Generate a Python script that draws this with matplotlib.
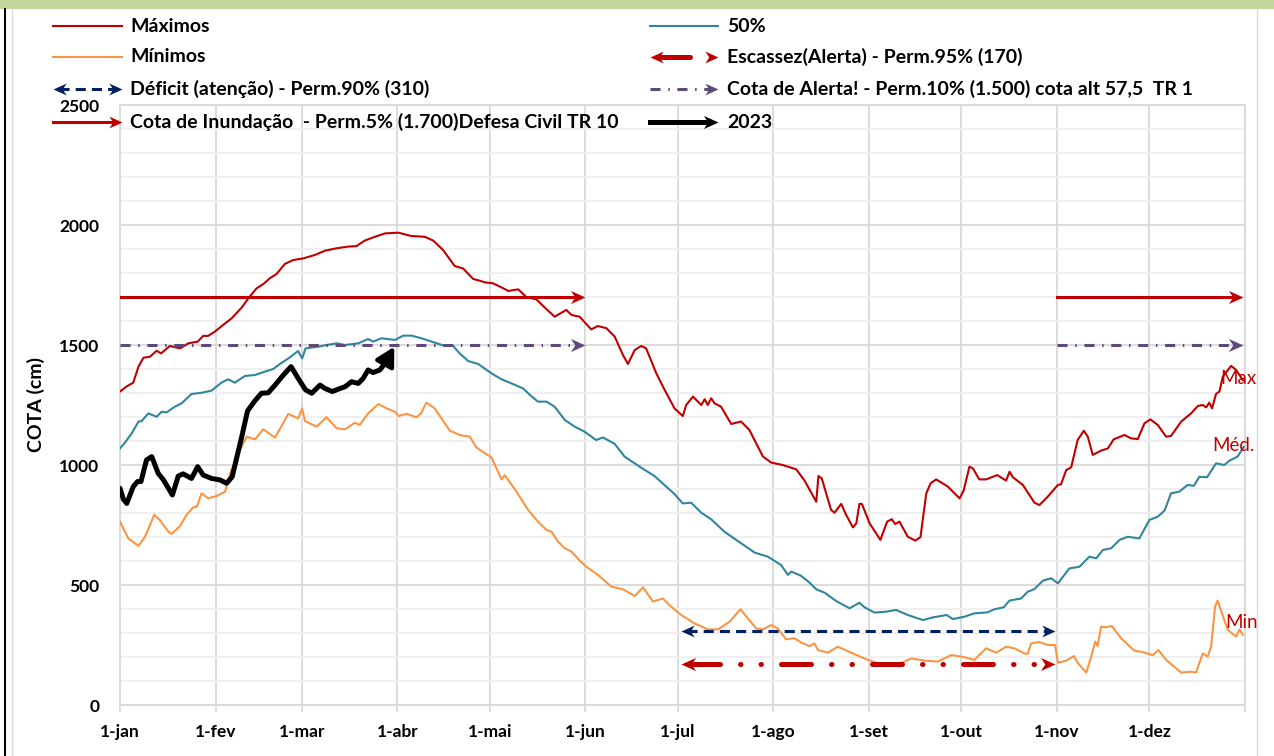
import matplotlib.pyplot as plt
from matplotlib.path import Path
from matplotlib.lines import Line2D
from matplotlib.patches import Rectangle

plt.rcParams['font.family'] = ['Lato', 'DejaVu Sans']

# =========================
# data (day of year, cota in cm)
# =========================
max_days = [0, 2, 4.3, 6, 7.6, 9.7, 11.9, 13.3, 16.2, 19.5, 22.2, 25.2, 27, 28.6, 30.8, 33,
            36.2, 39.5, 41.6, 44.3, 46.5, 48.6, 50.8, 53.5, 56.2, 59.5, 63.2, 66.5, 70.3, 74,
            76.7, 79.4, 82.7, 86, 90.3, 94.6, 98.9, 101.6, 104.8, 108.6, 111.3, 114.6, 116.7,
            118.4, 121, 123.8, 126, 129.2, 131.9, 135.1, 138.4, 141, 144.8, 146.5, 149.1,
            152.9, 155, 157.8, 160.5, 163.2, 164.8, 167, 169.1, 170.7, 174, 176.7, 179.9,
            182.6, 183.7, 185.9, 188.6, 189.7, 190.7, 191.8, 192.9, 195, 198.3, 201.5, 204.2,
            208.6, 211.3, 215, 219.4, 222.1, 225.9, 226.6, 227.7, 229.1, 230.7, 231.8, 234,
            235.6, 237.8, 238.9, 239.9, 240.7, 243.2, 246.7, 248.9, 250.4, 251.5, 252.9,
            255.6, 258, 259.7, 261.6, 263, 264.8, 268.6, 272.4, 273.7, 275.6, 276.7, 278.8,
            281, 284.6, 287.5, 288.6, 289.7, 292.9, 296.7, 298.3, 301, 304.3, 305.3, 307,
            308.6, 310.7, 312.7, 314, 315.6, 318.3, 320.5, 322.4, 325.9, 328, 330.2, 332.4,
            334.3, 336.7, 339.4, 341, 344.3, 347.5, 349.7, 351.3, 352.4, 353.4, 354.3, 355.6,
            356.7, 357.8, 360.5, 362.1, 364.3]
max_vals = [1306, 1326, 1343, 1410, 1447, 1451, 1476, 1465, 1496, 1486, 1507, 1514, 1538, 1538,
            1556, 1579, 1611, 1656, 1694, 1736, 1754, 1778, 1796, 1838, 1854, 1861, 1875, 1893,
            1903, 1910, 1912, 1935, 1951, 1965, 1968, 1954, 1951, 1935, 1896, 1829, 1819, 1775,
            1768, 1761, 1757, 1740, 1725, 1732, 1699, 1690, 1649, 1618, 1646, 1625, 1618, 1565,
            1579, 1570, 1535, 1458, 1421, 1479, 1496, 1486, 1382, 1313, 1236, 1204, 1250, 1285,
            1250, 1274, 1250, 1278, 1257, 1243, 1171, 1181, 1146, 1035, 1010, 1000, 982, 935,
            847, 954, 944, 882, 813, 801, 838, 792, 740, 757, 838, 838, 757, 688, 764, 774, 754,
            764, 701, 685, 699, 882, 924, 940, 910, 861, 893, 993, 986, 940, 940, 958, 935, 972,
            949, 917, 843, 833, 868, 917, 919, 979, 990, 1104, 1143, 1118, 1042, 1060, 1069,
            1107, 1125, 1111, 1108, 1174, 1190, 1167, 1118, 1121, 1181, 1215, 1246, 1250, 1240,
            1260, 1236, 1296, 1306, 1368, 1413, 1396, 1354]

med_days = [0, 1.6, 3.8, 6, 7, 9.2, 11.9, 13.5, 15.1, 17.8, 20, 23.2, 26.5, 29.7, 33, 35.1,
            37.3, 40.5, 43.8, 47, 49.7, 51.9, 54.6, 57.8, 59.1, 60.2, 64.3, 67, 70.3, 73, 77.3,
            80.5, 82.1, 84.8, 89.2, 91.9, 94.6, 97.8, 102.1, 105.4, 108.1, 110.2, 113, 116.2,
            120.5, 123.8, 127, 130.8, 133, 135.6, 138.4, 141, 144.3, 147.5, 150.7, 154.5,
            156.7, 160.5, 163.7, 168.6, 173.4, 179.9, 182.6, 185.3, 188.6, 191.8, 196.1,
            201.5, 205.9, 210.2, 214.5, 216.7, 217.8, 221, 223.7, 225.9, 228.6, 232.4, 236.7,
            239.9, 241.6, 244.8, 248.6, 251.8, 255.6, 260.5, 263.7, 268.2, 270.2, 274, 277.2,
            281.5, 283.7, 286.7, 288.6, 292.4, 294.5, 296.7, 299.4, 302.1, 304.3, 308, 311.3,
            314.5, 316.7, 318.9, 321.6, 324.3, 327, 330.7, 334, 336.7, 338.9, 341, 343.7,
            346.4, 348.4, 350.2, 352.7, 355.6, 358.3, 359.9, 362.6, 364.6]
med_vals = [1069, 1093, 1132, 1181, 1183, 1215, 1201, 1222, 1219, 1243, 1257, 1296, 1301, 1310,
            1344, 1357, 1343, 1371, 1375, 1389, 1400, 1421, 1444, 1475, 1444, 1486, 1493, 1500,
            1507, 1500, 1507, 1525, 1514, 1528, 1521, 1539, 1539, 1528, 1510, 1496, 1496, 1465,
            1433, 1421, 1382, 1357, 1340, 1319, 1292, 1264, 1264, 1243, 1188, 1160, 1139, 1104,
            1115, 1088, 1035, 993, 954, 879, 840, 843, 801, 774, 722, 674, 635, 618, 583, 542,
            556, 538, 510, 482, 468, 433, 403, 426, 407, 385, 389, 396, 375, 354, 365, 375, 358,
            368, 382, 386, 399, 407, 435, 444, 472, 483, 518, 528, 507, 569, 576, 618, 611, 646,
            653, 688, 701, 694, 771, 785, 810, 882, 889, 917, 913, 951, 949, 1007, 1000, 1018,
            1035, 1076]

min_days = [0, 2.7, 6, 8.1, 11.1, 12.9, 15.7, 16.8, 19.5, 21.6, 23.8, 24.9, 26.5, 28.6, 31.4,
            34.1, 35.7, 38.9, 41.1, 43.8, 46.5, 50.3, 54.6, 57.8, 59.1, 60, 63.8, 67, 70.3, 73,
            76.2, 77.8, 80.5, 83.8, 86.5, 89.2, 90.3, 93, 96.2, 97.8, 99.4, 102.1, 104.3, 107,
            110.2, 113.5, 115.6, 118.4, 120.5, 123.8, 124.8, 128.1, 132.4, 135.6, 138.4, 140,
            142.1, 144.3, 146.5, 149.2, 151.3, 155.1, 159.4, 163.2, 167, 169.7, 172.9, 176.1,
            178.8, 182.1, 186.4, 190.7, 194, 197.8, 201.3, 203.7, 206.4, 208.6, 211.3, 213.4,
            216.1, 218.8, 221.5, 223.7, 225.3, 226.4, 229.7, 232.9, 237.2, 242.6, 245.9, 250.2,
            253.4, 256.7, 261, 265.3, 269.7, 274, 277.2, 281, 284.3, 287.5, 290.2, 293.4, 294.5,
            295.6, 298.3, 301, 303.4, 304.3, 307, 309.5, 310.8, 313.5, 315.1, 316.4, 317.2,
            318.3, 319.9, 321.8, 324.8, 329.1, 331.3, 335.1, 336.9, 339.4, 344.3, 347.5, 349.1,
            351.3, 352.9, 354, 355.3, 356.1, 359.4, 362.1, 363.2, 364.3]
min_vals = [764, 694, 663, 701, 792, 771, 722, 713, 746, 792, 824, 826, 882, 861, 871, 889, 965,
            1063, 1118, 1107, 1149, 1114, 1213, 1194, 1236, 1183, 1160, 1199, 1153, 1149, 1176,
            1167, 1215, 1254, 1236, 1222, 1204, 1213, 1199, 1218, 1260, 1236, 1194, 1143, 1125,
            1118, 1074, 1049, 1032, 940, 958, 899, 813, 764, 729, 722, 681, 653, 639, 601, 576,
            542, 493, 482, 454, 490, 431, 444, 410, 375, 340, 315, 315, 347, 399, 361, 319, 315,
            333, 319, 274, 278, 257, 245, 257, 229, 218, 243, 218, 188, 174, 174, 174, 194, 185,
            181, 208, 199, 188, 236, 218, 243, 236, 215, 213, 257, 262, 250, 250, 176, 185, 204,
            174, 135, 201, 264, 246, 326, 324, 329, 278, 226, 222, 208, 229, 188, 135, 139, 135,
            215, 201, 243, 410, 435, 313, 285, 315, 292]

y2023_days = [0, 1.1, 2.2, 4.3, 5.7, 6.8, 8.6, 10.3, 12.4, 14.1, 17, 18.9, 20.5, 23.2, 25.2, 27,
              29.7, 32.4, 34.6, 36.4, 39.5, 41.4, 43.8, 45.9, 48.1, 50.3, 53, 55.5, 57.8, 60.2,
              62.2, 64.9, 66.5, 68.9, 71.4, 73, 75.1, 77.3, 78.9, 80.5, 82.1, 84.3, 86, 89]
y2023_vals = [903, 857, 840, 910, 931, 931, 1021, 1035, 965, 938, 875, 954, 963, 944, 993, 958,
              944, 938, 924, 951, 1118, 1226, 1268, 1299, 1301, 1333, 1375, 1410, 1361, 1313,
              1299, 1333, 1319, 1306, 1319, 1326, 1347, 1340, 1361, 1396, 1385, 1396, 1424,
              1493]

# reference levels and the date spans of their arrows
flood_level = 1700
alert_level = 1500
deficit_level = 310
scarcity_level = 170
flood_spans = [(0, 151), (304, 364.5)]
alert_spans = [(0, 151), (304, 364.5)]
deficit_span = (182, 303.5)
scarcity_span = (182, 303.5)

month_days = [0, 31, 59, 90, 120, 151, 181, 212, 243, 273, 304, 334, 365]
month_labels = ['1-jan', '1-fev', '1-mar', '1-abr', '1-mai', '1-jun', '1-jul', '1-ago',
                '1-set', '1-out', '1-nov', '1-dez', '']

RED = '#C00000'
TEAL = '#31859C'
ORANGE = '#F79646'
NAVY = '#002060'
PURPLE = '#5F497A'
FS = 12.5
LFS = 14

W, H = 1274, 756

HEAD_R = Path([(0, 0), (-1, 0.45), (-0.7, 0), (-1, -0.45), (0, 0)],
              [Path.MOVETO, Path.LINETO, Path.LINETO, Path.LINETO, Path.CLOSEPOLY])
HEAD_L = Path([(0, 0), (1, 0.45), (0.7, 0), (1, -0.45), (0, 0)],
              [Path.MOVETO, Path.LINETO, Path.LINETO, Path.LINETO, Path.CLOSEPOLY])

DASH_DEF = (0, (3.3, 2))
DASH_ALERT = (0, (3.3, 2.5, 0.5, 2.5))
DASH_SCAR = (0, (6, 4, 0.1, 4, 0.1, 4))


def fx(px):
    return px / W


def fy(py):
    return 1 - py / H


# =========================
# plot
# =========================
fig = plt.figure(figsize=(W / 100, H / 100), dpi=100)
ax = fig.add_axes([fx(120), fy(705), 1125 / W, 600 / H])

ax.plot(max_days, max_vals, color=RED, lw=1.5, zorder=3)
ax.plot(med_days, med_vals, color=TEAL, lw=1.5, zorder=3)
ax.plot(min_days, min_vals, color=ORANGE, lw=1.5, zorder=3)


def ax_head(x, y, color, path, ms=21):
    ax.plot([x], [y], marker=path, ms=ms, color=color, mew=0, ls='none', zorder=6, clip_on=False)


# flood / alert arrows
for a, b in flood_spans:
    ax.plot([a, b - 2], [flood_level] * 2, color=RED, lw=2.2, zorder=4)
    ax_head(b, flood_level, RED, HEAD_R)
for a, b in alert_spans:
    ax.plot([a, b - 2], [alert_level] * 2, color=PURPLE, lw=2.2, ls=DASH_ALERT, zorder=4)
    ax_head(b, alert_level, PURPLE, HEAD_R)

# deficit double arrow
a, b = deficit_span
ax.plot([a + 2, b - 2], [deficit_level] * 2, color=NAVY, lw=2.2, ls=DASH_DEF, zorder=4)
ax_head(a, deficit_level, NAVY, HEAD_L, 19)
ax_head(b, deficit_level, NAVY, HEAD_R, 19)

# scarcity double arrow
a, b = scarcity_span
ax.plot([a + 3, b - 4], [scarcity_level] * 2, color=RED, lw=3.6, ls=DASH_SCAR,
        dash_capstyle='round', zorder=4)
ax_head(a, scarcity_level, RED, HEAD_L)
ax_head(b, scarcity_level, RED, HEAD_R)

# 2023 with arrow head
ax.plot(y2023_days[:-1], y2023_vals[:-1], color='black', lw=3.6, zorder=5,
        solid_joinstyle='round', solid_capstyle='round')
ax.annotate('', xy=(y2023_days[-1], y2023_vals[-1]), xytext=(y2023_days[-2], y2023_vals[-2]),
            arrowprops=dict(arrowstyle='-|>,head_length=1.1,head_width=0.6', color='black',
                            lw=3.2, mutation_scale=10, shrinkA=0, shrinkB=0), zorder=5)

# series labels on the right
ax.text(357, 1362, 'Max', color=RED, fontsize=13.5, va='center', ha='left', clip_on=False)
ax.text(354.5, 1083, 'Méd.', color=RED, fontsize=13.5, va='center', ha='left', clip_on=False)
ax.text(358.5, 342, 'Min', color=RED, fontsize=13.5, va='center', ha='left', clip_on=False)

# axes
ax.set_xlim(0, 365)
ax.set_ylim(0, 2500)
ax.set_xticks(month_days)
ax.set_xticklabels(month_labels, fontweight='bold', fontsize=FS)
ax.set_yticks(range(0, 2501, 500))
ax.set_yticklabels([str(v) for v in range(0, 2501, 500)], fontweight='bold', fontsize=FS)
ax.set_yticks(range(0, 2501, 100), minor=True)
ax.set_axisbelow(True)
ax.grid(which='major', color='#D9D9D9', lw=1.3)
ax.grid(which='minor', axis='y', color='#EFEFEF', lw=1.3)
ax.tick_params(axis='x', which='major', length=5, width=1.3, color='#D9D9D9', pad=9)
ax.tick_params(axis='y', which='both', length=0, pad=15)
ax.tick_params(axis='x', which='minor', length=0)
for s in ax.spines.values():
    s.set_color('#D9D9D9')
    s.set_linewidth(1.3)
ax.set_ylabel('COTA (cm)', fontweight='bold', fontsize=14)
ax.yaxis.set_label_coords(-0.0667, 0.5)

# =========================
# frame decorations
# =========================
fig.add_artist(Rectangle((0, fy(9)), 1, 9 / H, transform=fig.transFigure,
                         facecolor='#C4D79B', edgecolor='none'))
fig.add_artist(Line2D([fx(5), fx(5)], [fy(9), 0], transform=fig.transFigure, color='black', lw=1.5))
fig.add_artist(Line2D([fx(12), fx(12)], [fy(9), 0], transform=fig.transFigure, color='#D9D9D9', lw=1))
fig.add_artist(Line2D([fx(1257), fx(1257)], [fy(9), 0], transform=fig.transFigure, color='#D9D9D9', lw=1))

# =========================
# legend (drawn by hand to keep arrow glyphs)
# =========================


def fig_line(x0, x1, y, **kw):
    fig.add_artist(Line2D([fx(x0), fx(x1)], [fy(y), fy(y)], transform=fig.transFigure, **kw))


def fig_head(x, y, color, path, ms=19):
    fig.add_artist(Line2D([fx(x)], [fy(y)], transform=fig.transFigure, marker=path, ms=ms,
                          color=color, mew=0, ls='none'))


def fig_label(x, y, s):
    fig.text(fx(x), fy(y), s, fontsize=LFS, fontweight='bold', va='center', ha='left')


rows = [26, 57, 89, 122]
lx0, lx1, ltx = 53, 122, 130
rx0, rx1, rtx = 650, 718, 727

fig_line(lx0, lx1, rows[0], color=RED, lw=1.5)
fig_label(ltx, rows[0], 'Máximos')
fig_line(lx0, lx1, rows[1], color=ORANGE, lw=1.5)
fig_label(ltx, rows[1], 'Mínimos')
fig_line(lx0 + 6, lx1 - 6, rows[2], color=NAVY, lw=2.2, ls=DASH_DEF)
fig_head(lx0, rows[2], NAVY, HEAD_L)
fig_head(lx1, rows[2], NAVY, HEAD_R)
fig_label(ltx, rows[2], 'Déficit (atenção) - Perm.90% (310)')
fig_line(lx0, lx1 - 6, rows[3], color=RED, lw=2.2)
fig_head(lx1, rows[3], RED, HEAD_R)
fig_label(ltx, rows[3], 'Cota de Inundação  - Perm.5% (1.700)Defesa Civil TR 10')

fig_line(rx0, rx1, rows[0], color=TEAL, lw=1.5)
fig_label(rtx, rows[0], '50%')
fig_line(rx0 + 8, rx0 + 40, rows[1], color=RED, lw=3.6, solid_capstyle='round')
fig_head(rx0, rows[1], RED, HEAD_L)
fig_head(rx1, rows[1], RED, HEAD_R)
fig_label(rtx, rows[1], 'Escassez(Alerta) - Perm.95% (170)')
fig_line(rx0, rx1 - 6, rows[2], color=PURPLE, lw=2.2, ls=DASH_ALERT)
fig_head(rx1, rows[2], PURPLE, HEAD_R)
fig_label(rtx, rows[2], 'Cota de Alerta! - Perm.10% (1.500) cota alt 57,5  TR 1')
fig_line(rx0, rx1 - 8, rows[3], color='black', lw=3.6)
fig_head(rx1, rows[3], 'black', HEAD_R, 21)
fig_label(rtx, rows[3], '2023')

fig.savefig('out.png', dpi=100)
